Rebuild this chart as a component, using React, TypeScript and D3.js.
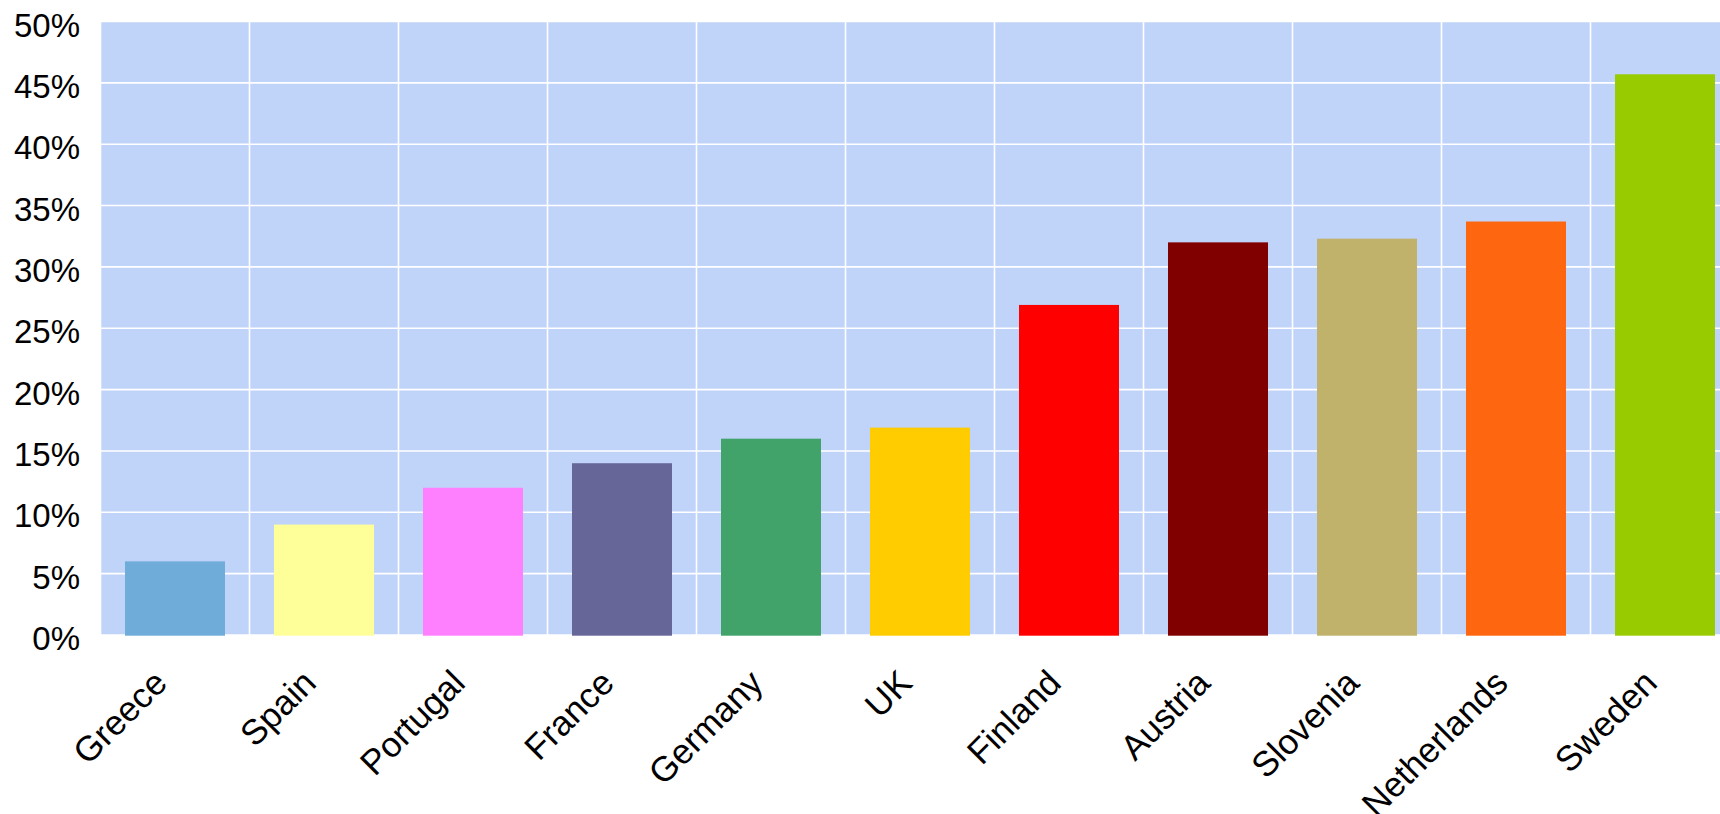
import React from "react";
import * as d3 from "d3";

const categories = [
  "Greece",
  "Spain",
  "Portugal",
  "France",
  "Germany",
  "UK",
  "Finland",
  "Austria",
  "Slovenia",
  "Netherlands",
  "Sweden",
];

// Share in percent
const values = [6.0, 9.0, 12.0, 14.0, 16.0, 16.9, 26.9, 32.0, 32.3, 33.7, 45.7];

const barColors = [
  "#6FACD9",
  "#FFFF99",
  "#FF80FF",
  "#666699",
  "#42A36A",
  "#FFCC00",
  "#FF0000",
  "#800000",
  "#C0B26A",
  "#FF6610",
  "#99CC00",
];

const yTicks = [0, 5, 10, 15, 20, 25, 30, 35, 40, 45, 50];

const W = 1720;
const H = 814;
const plotLeft = 100.5;
const plotTop = 21.5;
const plotBottom = 635;
const step = 149;
const plotRight = plotLeft + categories.length * step;
const FONT = "'Liberation Sans', Arial, Helvetica, sans-serif";

export default function App() {
  const x = d3
    .scaleBand<string>()
    .domain(categories)
    .range([plotLeft, plotRight])
    .paddingInner(49 / 149)
    .paddingOuter(24.5 / 149);
  const y = d3.scaleLinear().domain([0, 50]).range([plotBottom, plotTop]);

  const boundaries = d3.range(categories.length + 1).map((i) => plotLeft + i * step);

  return (
    <svg
      width={W}
      height={H}
      style={{ position: "absolute", left: 0, top: 0, background: "#fff" }}
      fontFamily={FONT}
    >
      <rect
        x={plotLeft}
        y={plotTop}
        width={plotRight - plotLeft}
        height={plotBottom - plotTop}
        fill="#C0D3F9"
      />
      {yTicks.map((t) => (
        <line
          key={"h" + t}
          x1={plotLeft}
          x2={plotRight}
          y1={y(t)}
          y2={y(t)}
          stroke="#FFFFFF"
          strokeWidth={1.6}
        />
      ))}
      {boundaries.map((bx, i) => (
        <line
          key={"v" + i}
          x1={bx}
          x2={bx}
          y1={plotTop}
          y2={plotBottom}
          stroke="#FFFFFF"
          strokeWidth={1.6}
        />
      ))}
      {categories.map((c, i) => (
        <rect
          key={c}
          x={x(c)}
          y={y(values[i])}
          width={x.bandwidth()}
          height={y(0) - y(values[i]) + 0.7}
          fill={barColors[i]}
        />
      ))}
      {yTicks.map((t) => (
        <text
          key={"yl" + t}
          x={80}
          y={y(t) + 15}
          textAnchor="end"
          fontSize={33}
          fill="#000"
        >
          {t + "%"}
        </text>
      ))}
      {categories.map((c) => {
        const cx = (x(c) as number) + x.bandwidth() / 2;
        return (
          <text
            key={"xl" + c}
            transform={`translate(${cx - 6},${plotBottom + 50}) rotate(-45)`}
            textAnchor="end"
            fontSize={35}
            fill="#000"
          >
            {c}
          </text>
        );
      })}
    </svg>
  );
}
